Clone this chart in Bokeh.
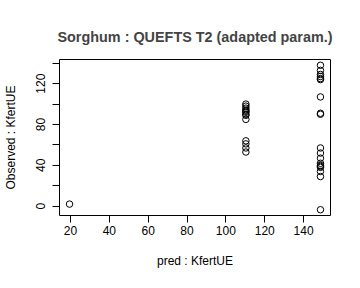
from bokeh.plotting import figure
from bokeh.models import Range1d, FixedTicker
from bokeh.embed import file_html
from bokeh.resources import INLINE

# data
pred = [19.5] + [110.3] * 13 + [148.7] * 19
observed = [2,
            100, 98, 96, 94, 93, 92, 90, 89, 85,
            64, 61, 57, 53,
            138, 133, 129, 127, 125, 124, 107, 91, 90,
            57, 52, 47, 42, 40, 39, 38, 34, 29, -3.5]
x_ticks = [20, 40, 60, 80, 100, 120, 140]
y_ticks = [0, 20, 40, 60, 80, 100, 120, 140]
y_labeled = [0, 40, 80, 120]
title_text = "Sorghum : QUEFTS T2 (adapted param.)"
xlab = "pred : KfertUE"
ylab = "Observed : KfertUE"

def r_range(v):
    lo, hi = min(v), max(v)
    d = (hi - lo) * 0.04
    return lo - d, hi + d

xlo, xhi = r_range(pred)
ylo, yhi = r_range(observed)

FONT = "Liberation Sans"

p = figure(width=360, height=288, output_backend="svg", toolbar_location=None,
           x_range=Range1d(xlo, xhi), y_range=Range1d(ylo, yhi),
           min_border_left=59, min_border_right=30, min_border_top=59, min_border_bottom=73)
p.background_fill_color = "white"
p.border_fill_color = "white"
p.outline_line_color = "black"
p.outline_line_width = 1
p.grid.visible = False

p.title.text = title_text
p.title.align = "center"
p.title.text_font = FONT
p.title.text_font_size = "14.4px"
p.title.text_font_style = "bold"
p.title.standoff = 30

for ax in (p.xaxis[0], p.yaxis[0]):
    ax.axis_line_color = None
    ax.major_tick_line_color = "black"
    ax.major_tick_out = 7
    ax.major_tick_in = 0
    ax.minor_tick_line_color = None
    ax.major_label_text_font = FONT
    ax.major_label_text_font_size = "12px"
    ax.major_label_text_color = "black"
    ax.axis_label_text_font = FONT
    ax.axis_label_text_font_size = "12px"
    ax.axis_label_text_font_style = "normal"
    ax.axis_label_text_color = "black"

p.xaxis[0].ticker = FixedTicker(ticks=x_ticks)
p.xaxis[0].major_label_standoff = 3
p.xaxis[0].axis_label = xlab
p.xaxis[0].axis_label_standoff = 16

p.yaxis[0].ticker = FixedTicker(ticks=y_ticks)
p.yaxis[0].major_label_overrides = {t: (str(t) if t in y_labeled else "") for t in y_ticks}
p.yaxis[0].major_label_orientation = "parallel"
p.yaxis[0].major_label_standoff = 7
p.yaxis[0].axis_label = ylab
p.yaxis[0].axis_label_standoff = 16

p.scatter(pred, observed, marker="circle", size=6.5, fill_color=None,
          line_color="black", line_width=1)

open("out.html", "w").write(file_html(p, INLINE))
